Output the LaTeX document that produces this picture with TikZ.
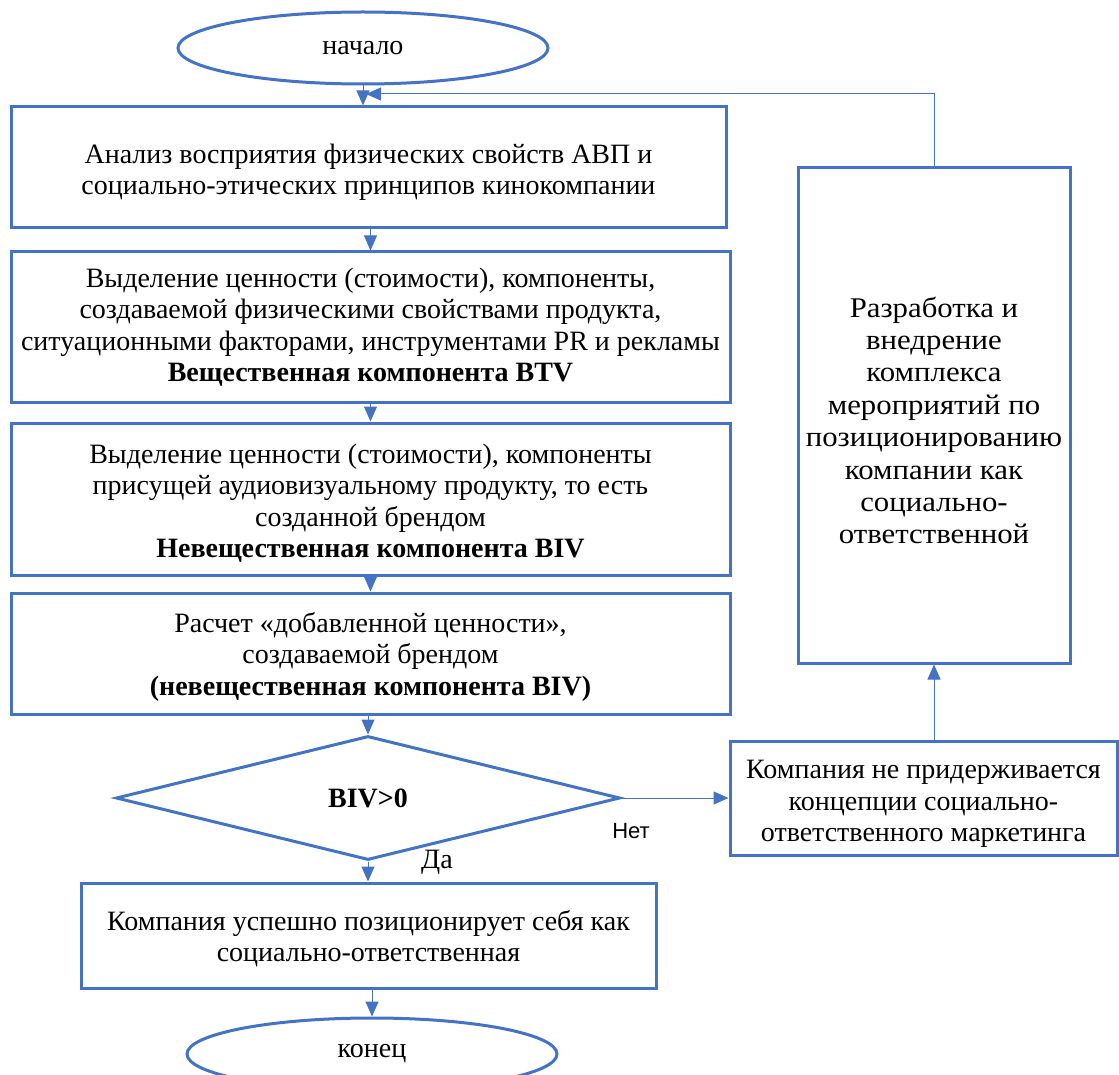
\documentclass[tikz,border=0pt]{standalone}
\usepackage{fontspec}
\setmainfont{Liberation Serif}
\newfontfamily\labelsans{Liberation Sans}
\newfontfamily\widefont[FakeStretch=1.08]{Liberation Serif}
\usetikzlibrary{arrows.meta,shapes.geometric}
\definecolor{wblue}{HTML}{4472C4}
\tikzset{
  frame/.style={draw=wblue, line width=3pt, inner sep=0pt},
  txt/.style={align=center, inner sep=0pt, font=\fontsize{28}{31.5}\selectfont},
  term/.style={ellipse, draw=wblue, line width=3pt, inner sep=0pt,
    font=\fontsize{28}{31.5}\selectfont},
  conn/.style={draw=wblue, line width=1pt, -{Triangle[length=15pt,width=13pt]}},
  lbl/.style={inner sep=0pt, font=\fontsize{28}{31.5}\selectfont},
}
\begin{document}
\begin{tikzpicture}[x=1pt,y=-1pt]
\useasboundingbox (0,0) rectangle (1119,1075);
\node[term, minimum width=370, minimum height=72] (start) at (363,48) {начало};
\node[frame, minimum width=715, minimum height=121] (b1) at (368.5,167.5) {};
\node[txt] (b1t) at ([yshift=-5pt]b1.center)
  {Анализ восприятия физических свойств АВП и\\социально-этических принципов кинокомпании};
\node[frame, minimum width=719, minimum height=150] (b2) at (370.5,327) {};
\node[txt] (b2t) at (b2.center)
  {Выделение ценности (стоимости), компоненты,\\создаваемой физическими свойствами продукта,\\ситуационными факторами, инструментами PR и рекламы\\\textbf{Вещественная компонента BTV}};
\node[frame, minimum width=719, minimum height=152] (b3) at (370.5,499) {};
\node[txt] (b3t) at ([yshift=-4pt]b3.center)
  {Выделение ценности (стоимости), компоненты\\присущей аудиовизуальному продукту, то есть\\созданной брендом\\\textbf{Невещественная компонента BIV}};
\node[frame, minimum width=719, minimum height=121] (b4) at (370.5,653.5) {};
\node[txt] (b4t) at ([yshift=-3pt]b4.center)
  {Расчет «добавленной ценности»,\\создаваемой брендом\\\textbf{(невещественная компонента BIV)}};
\node[diamond, draw=wblue, line width=3pt, inner sep=0pt, minimum width=504, minimum height=124,
  aspect=4.06, font=\fontsize{28}{31.5}\selectfont] (d) at (368,798) {\textbf{BIV>0}};
\node[frame, minimum width=387, minimum height=114] (no) at (923.5,798) {};
\node[txt] (not) at ([yshift=-6pt]no.center)
  {Компания не придерживается\\концепции социально-\\ответственного маркетинга};
\node[frame, minimum width=272, minimum height=495] (dev) at (934,415.5) {};
\node[txt, font=\widefont\fontsize{28.5}{32.4}\selectfont] (devt) at ([yshift=-5pt]dev.center)
  {Разработка и\\внедрение\\комплекса\\мероприятий по\\позиционированию\\компании как\\социально-\\ответственной};
\node[frame, minimum width=575, minimum height=105] (b5) at (368.5,935.5) {};
\node[txt] (b5t) at ([yshift=-3pt]b5.center)
  {Компания успешно позиционирует себя как\\социально-ответственная};
\begin{scope}
\clip (0,0) rectangle (1119,1075);
\node[term, minimum width=370, minimum height=72] (end) at (372,1054) {конец};
\end{scope}
\node[lbl, font=\labelsans\fontsize{22}{26}\selectfont] (net) at (631,831) {Нет};
\node[lbl] (da) at (437,862) {Да};
\coordinate (loopend) at (366,94);
\draw[conn] (start.south) -- (start.south |- b1.north);
\draw[conn] (dev.north) |- (loopend);
\draw[conn] (b2.north |- b1.south) -- (b2.north);
\draw[conn] (b3.north |- b2.south) -- (b3.north);
\draw[conn] (b4.north |- b3.south) -- (b4.north);
\draw[conn] (d.north |- b4.south) -- (d.north);
\draw[conn] (d.east) -- (no.west);
\draw[conn] (dev.south |- no.north) -- (dev.south);
\draw[conn] (d.south) -- (d.south |- b5.north);
\draw[conn] (end.north |- b5.south) -- (end.north);
\end{tikzpicture}
\end{document}
